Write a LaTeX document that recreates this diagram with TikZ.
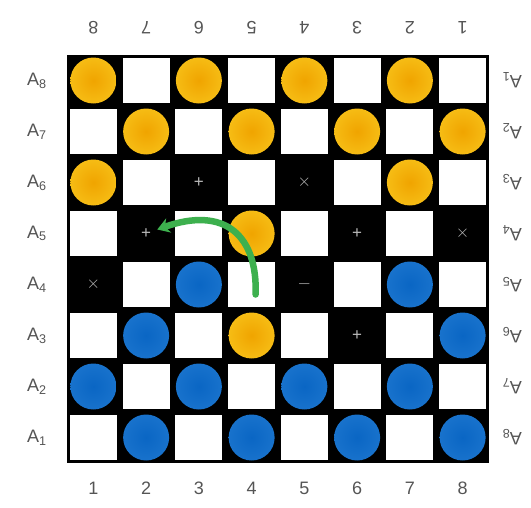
\documentclass[tikz,border=0pt]{standalone}
\usepackage{fontspec}
\setmainfont{Liberation Sans}
\usetikzlibrary{arrows.meta}
\definecolor{gold}{HTML}{F6BC14}
\definecolor{goldc}{HTML}{F0A400}
\definecolor{bluep}{HTML}{1872CC}
\definecolor{bluec}{HTML}{0A66C4}
\definecolor{mvgreen}{HTML}{3DB04E}
\definecolor{labgray}{HTML}{555555}
\tikzset{
  lightsq/.style={draw=none,fill=white,minimum width=47pt,minimum height=45.5pt,inner sep=0pt},
  ypiece/.style={circle,inner sep=0pt,minimum size=46pt,inner color=goldc,outer color=gold},
  bpiece/.style={circle,inner sep=0pt,minimum size=46pt,inner color=bluec,outer color=bluep},
  sqmark/.style={text=gray!55,font=\fontsize{17}{17}\selectfont,inner sep=0pt},
  lab/.style={text=labgray,font=\fontsize{18}{18}\selectfont,inner sep=1pt},
  mv/.style={draw=mvgreen,line width=6.5pt,line cap=round,-{Stealth[length=12pt,width=15pt]}}
}
\begin{document}
\begin{tikzpicture}[x=1pt,y=-1pt]
\useasboundingbox (0,0) rectangle (531,507);
\fill[white] (0,0) rectangle (531,507);
\fill[black] (67,55) rectangle (489,463);
\foreach \r in {1,...,8}{
  \foreach \c in {1,...,8}{
    \pgfmathtruncatemacro\p{mod(\r+\c,2)}
    \ifnum\p=1
      \node[lightsq] (sq-\r-\c) at ({67+(\c-0.5)*52.75},{55+(\r-0.5)*51}) {};
    \else
      \coordinate (sq-\r-\c) at ({67+(\c-0.5)*52.75},{55+(\r-0.5)*51});
    \fi
  }
}
% yellow pieces
\foreach \r/\c in {1/1,1/3,1/5,1/7,2/2,2/4,2/6,2/8,3/1,3/7,4/4,6/4}{
  \node[ypiece] (y-\r-\c) at (sq-\r-\c) {};
}
% blue pieces
\foreach \r/\c in {5/3,5/7,6/2,6/8,7/1,7/3,7/5,7/7,8/2,8/4,8/6,8/8}{
  \node[bpiece] (b-\r-\c) at (sq-\r-\c) {};
}
% marks on empty dark squares
\node[sqmark] (m-3-3) at (sq-3-3) {+};
\node[sqmark] (m-3-5) at (sq-3-5) {$\times$};
\node[sqmark] (m-4-2) at (sq-4-2) {+};
\node[sqmark] (m-4-6) at (sq-4-6) {+};
\node[sqmark] (m-4-8) at (sq-4-8) {$\times$};
\node[sqmark] (m-5-1) at (sq-5-1) {$\times$};
\node[sqmark] (m-5-5) at (sq-5-5) {$-$};
\node[sqmark] (m-6-6) at (sq-6-6) {+};
% move arrow
\coordinate (mvstart) at ([xshift=4pt,yshift=-10pt]sq-5-4);
\draw[mv] (mvstart) .. controls ([xshift=6pt,yshift=-2pt]sq-4-4) and ([xshift=26pt,yshift=28pt]sq-4-3) .. ([xshift=6pt,yshift=4pt]m-4-2.east);
% labels
\foreach \r in {1,...,8}{
  \pgfmathtruncatemacro\n{9-\r}
  \node[lab] (ll-\r) at (37,{55+(\r-0.5)*51}) {A\textsubscript{\n}};
  \node[lab,rotate=180] (rl-\r) at (512,{55+(\r-0.5)*51}) {A\textsubscript{\r}};
}
\foreach \c in {1,...,8}{
  \pgfmathtruncatemacro\n{9-\c}
  \node[lab,rotate=180] (tl-\c) at ({67+(\c-0.5)*52.75},28) {\n};
  \node[lab] (bl-\c) at ({67+(\c-0.5)*52.75},488) {\c};
}
\end{tikzpicture}
\end{document}
